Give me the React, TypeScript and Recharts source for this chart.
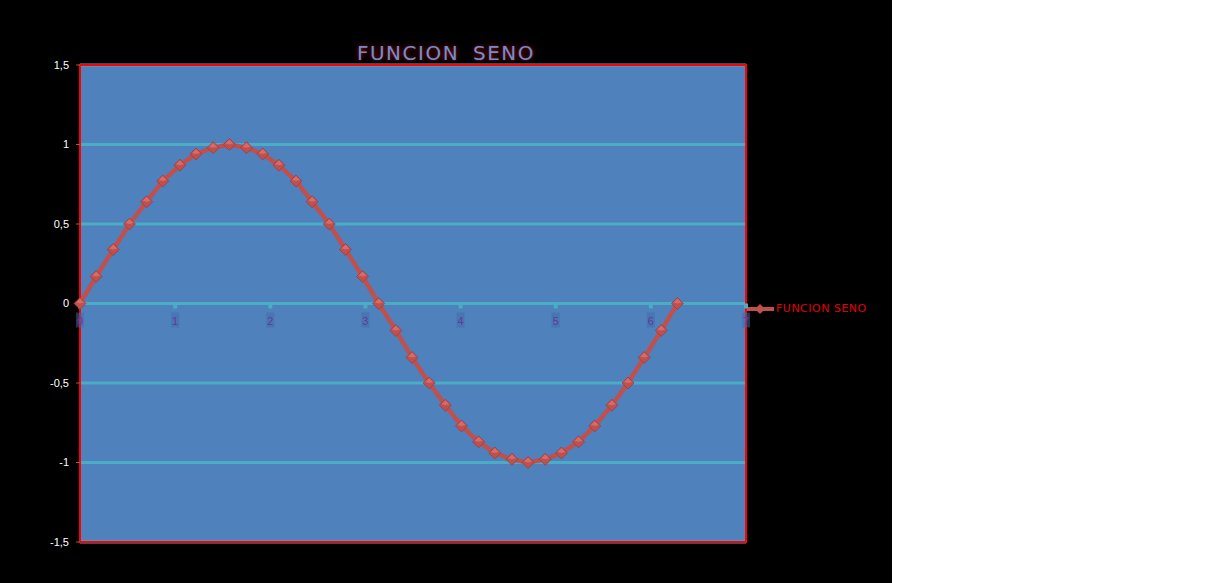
import React from 'react';
import {
  LineChart, Line, XAxis, YAxis, CartesianGrid, ReferenceArea, ReferenceDot,
} from 'recharts';

// angle in radians, steps of 10 degrees
const xValues = [
  0, 0.17, 0.35, 0.52, 0.7, 0.87, 1.05, 1.22, 1.4, 1.57, 1.75, 1.92, 2.09, 2.27, 2.44, 2.62, 2.79, 2.97, 3.14,
  3.32, 3.49, 3.67, 3.84, 4.01, 4.19, 4.36, 4.54, 4.71, 4.89, 5.06, 5.24, 5.41, 5.59, 5.76, 5.93, 6.11, 6.28,
];
const senoValues = [
  0, 0.17, 0.34, 0.5, 0.64, 0.77, 0.87, 0.94, 0.98, 1, 0.98, 0.94, 0.87, 0.77, 0.64, 0.5, 0.34, 0.17, 0,
  -0.17, -0.34, -0.5, -0.64, -0.77, -0.87, -0.94, -0.98, -1, -0.98, -0.94, -0.87, -0.77, -0.64, -0.5, -0.34, -0.17, 0,
];
const xTicks = [0, 1, 2, 3, 4, 5, 6, 7];
const yTicks = [-1.5, -1, -0.5, 0, 0.5, 1, 1.5];

const data = xValues.map((x, i) => ({ x, seno: senoValues[i] }));

const RED = '#c0504d';
const CYAN = '#4bacc6';

/* eslint-disable @typescript-eslint/no-explicit-any */
function Diamond({ cx, cy }: any) {
  if (cx == null || cy == null) return null;
  const r = 6;
  return (
    <g>
      <polygon points={`${cx},${cy - r} ${cx + r},${cy} ${cx},${cy + r} ${cx - r},${cy}`} fill={RED} stroke="#9b3330" strokeWidth={0.6} />
      <polygon points={`${cx},${cy - r + 1} ${cx + r - 2},${cy - 1} ${cx},${cy} ${cx - r + 2},${cy - 1}`} fill="#e07673" opacity={0.7} />
    </g>
  );
}

function XTickAtZero(label: number) {
  return ({ cx, cy }: any) => (
    <g>
      <rect x={cx - 2} y={cy} width={4} height={5} fill={CYAN} />
      <rect x={cx - 4} y={cy + 9} width={8} height={15} fill="#3f6ea8" opacity={0.5} />
      <text x={cx} y={cy + 21} textAnchor="middle" fontSize={11} fill="#7030a0" fontFamily="'Liberation Sans', sans-serif">
        {label}
      </text>
    </g>
  );
}

export default function App() {
  return (
    <div style={{ position: 'absolute', left: 0, top: 0, width: 1218, height: 583, background: '#fff' }}>
      <div style={{ position: 'absolute', left: 0, top: 0, width: 892, height: 583, background: '#000' }}>
        <div
          style={{
            position: 'absolute', left: 346, top: 41, width: 200, textAlign: 'center',
            fontFamily: "'DejaVu Sans', sans-serif", fontSize: 20, letterSpacing: 1.5, color: '#6b8fd0',
            textShadow: '0 0 2px #6a0a0a, 0 0 4px #6a0a0a, 0 0 6px #500000', wordSpacing: 6,
          }}
        >
          FUNCION SENO
        </div>
        <div style={{ position: 'absolute', left: 746, top: 302, display: 'flex', alignItems: 'center' }}>
          <svg width={30} height={12}>
            <line x1={0} y1={6} x2={28} y2={6} stroke={RED} strokeWidth={4} />
            <polygon points="14,1 19,6 14,11 9,6" fill={RED} />
          </svg>
          <span style={{ color: '#e00000', fontSize: 11, fontFamily: "'DejaVu Sans', sans-serif", letterSpacing: 0.5 }}>
            FUNCION SENO
          </span>
        </div>
        <LineChart width={892} height={583} data={data} margin={{ top: 65, right: 146, bottom: 41, left: 40 }}>
          <CartesianGrid vertical={false} stroke={CYAN} strokeWidth={3} fill="#4f81bd" fillOpacity={1} />
          <XAxis dataKey="x" type="number" domain={[0, 7]} ticks={xTicks} hide />
          <YAxis
            type="number"
            domain={[-1.5, 1.5]}
            ticks={yTicks}
            width={40}
            tickFormatter={(v: number) => String(v).replace('.', ',')}
            tick={{ fill: '#ffffff', fontSize: 11, fontFamily: "'Liberation Sans', sans-serif" }}
            axisLine={false}
            tickLine={{ stroke: RED }}
            tickSize={4}
            tickMargin={7}
          />
          <ReferenceArea x1={0} x2={7} y1={-1.5} y2={1.5} fill="none" stroke="#ff0000" strokeWidth={2} />
          {xTicks.map((t) => (
            <ReferenceDot key={t} x={t} y={0} r={0} shape={XTickAtZero(t)} />
          ))}
          <Line
            type="linear"
            dataKey="seno"
            name="FUNCION SENO"
            stroke={RED}
            strokeWidth={4.5}
            dot={<Diamond />}
            activeDot={false}
            isAnimationActive={false}
          />
        </LineChart>
      </div>
    </div>
  );
}
